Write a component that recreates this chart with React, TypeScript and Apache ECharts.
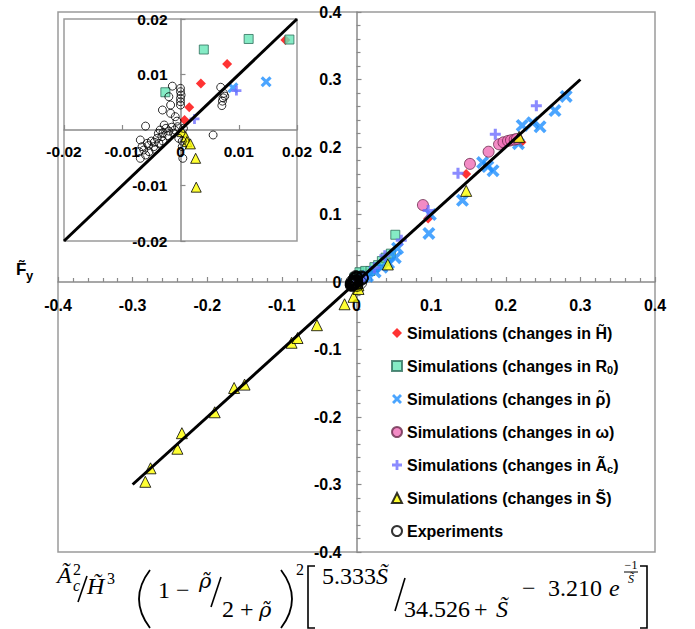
import React, { useEffect, useRef } from 'react';
import * as echarts from 'echarts';

// ---------- data ----------
const seriesNames = [
  'Simulations (changes in H\u0303)',
  'Simulations (changes in R0)',
  'Simulations (changes in \u03c1\u0303)',
  'Simulations (changes in \u03c9)',
  'Simulations (changes in \u00c3c)',
  'Simulations (changes in S\u0303)',
  'Experiments',
];

const mainRange = [-0.4, 0.4];
const mainInterval = 0.1;
const insetRange = [-0.02, 0.02];
const insetInterval = 0.01;

const diagonalMain = [[-0.3, -0.3], [0.3, 0.3]];
const diagonalInset = [[-0.02, -0.02], [0.02, 0.02]];

const changesH = [
  [0.0007, 0.0018], [0.0015, 0.0041], [0.0035, 0.0084], [0.008, 0.0119], [0.018, 0.0162],
  [0.096, 0.094], [0.147, 0.16], [0.221, 0.207],
];
const changesR0 = [
  [-0.0026, 0.0068], [0.004, 0.0145], [0.0117, 0.0164], [0.0187, 0.0163],
  [0.024, 0.022], [0.029, 0.025], [0.034, 0.031], [0.039, 0.036], [0.046, 0.042], [0.052, 0.07],
];
const changesRho = [
  [0.009, 0.0076], [0.0147, 0.0087], [0.025, 0.015], [0.034, 0.022], [0.043, 0.028],
  [0.052, 0.036], [0.055, 0.05], [0.097, 0.072], [0.099, 0.1], [0.142, 0.121],
  [0.169, 0.177], [0.176, 0.171], [0.183, 0.165], [0.217, 0.205], [0.222, 0.232],
  [0.236, 0.236], [0.246, 0.23], [0.266, 0.254], [0.281, 0.275],
];
const changesOmega = [
  [0.089, 0.114], [0.152, 0.175], [0.177, 0.193], [0.191, 0.204], [0.197, 0.207],
  [0.203, 0.209], [0.207, 0.21], [0.212, 0.211], [0.215, 0.212],
];
const changesAc = [
  [0.0024, 0.002], [0.0096, 0.0071], [0.024, 0.021], [0.038, 0.039], [0.06, 0.062],
  [0.096, 0.106], [0.136, 0.161], [0.186, 0.219], [0.241, 0.261],
];
const changesS = [
  [-0.283, -0.296], [-0.276, -0.276], [-0.24, -0.247], [-0.234, -0.224], [-0.19, -0.193],
  [-0.164, -0.157], [-0.15, -0.152], [-0.087, -0.09], [-0.079, -0.083], [-0.053, -0.064],
  [-0.016, -0.033], [-0.004, -0.022], [0.0003, -0.0003], [0.0009, -0.0012], [0.0011, -0.0021],
  [0.0017, -0.0025], [0.0026, -0.0051], [0.0027, -0.0103], [0.042, 0.026], [0.147, 0.135],
  [0.218, 0.215],
];
const experiments = [
  [0, 0.0075], [0, 0.0069], [0.0001, 0.0063], [0, 0.0057], [0, 0.0051], [0, 0.0045],
  [-0.0014, 0.0079], [-0.002, 0.006], [-0.0017, 0.0045], [-0.0031, 0.0036], [-0.0017, 0.003],
  [-0.0009, 0.0024], [-0.0006, 0.0016], [-0.006, 0.0007],
  [0.0069, 0.0077], [0.0074, 0.0066], [0.0076, 0.0061], [0.0073, 0.0058], [0.0072, 0.0052], [0.0071, 0.0044],
  [0.0056, -0.0009],
  [-0.0035, 0], [-0.003, -0.0005], [-0.0025, 0.0003], [-0.002, -0.0002], [-0.0015, 0.0005],
  [-0.001, 0], [-0.0005, 0.0006], [-0.0028, 0.0009], [-0.0038, -0.0006], [-0.0032, -0.0012],
  [-0.0022, -0.001], [-0.0012, -0.0006], [-0.004, -0.0015], [-0.0045, -0.0022], [-0.0037, -0.0024],
  [-0.003, -0.002], [-0.005, -0.002], [-0.0055, -0.0028],
  [-0.0069, -0.0018], [-0.0066, -0.003], [-0.0071, -0.0039], [-0.0069, -0.0051], [-0.0063, -0.0036],
  [-0.0057, -0.0024], [-0.006, -0.0045], [-0.0054, -0.0039], [-0.0046, -0.003], [-0.0043, -0.0035],
  [0.0003, -0.002], [0.0003, -0.003], [0.0004, -0.0051], [-0.0003, -0.0015], [0.0005, 0.0003],
];

const seriesData = [changesH, changesR0, changesRho, changesOmega, changesAc, changesS, experiments];

// ---------- styles ----------
const xPath = 'path://M0,2L2,0L5,3L8,0L10,2L7,5L10,8L8,10L5,7L2,10L0,8L3,5Z';
const plusPath = 'path://M3.6,0L6.4,0L6.4,3.6L10,3.6L10,6.4L6.4,6.4L6.4,10L3.6,10L3.6,6.4L0,6.4L0,3.6L3.6,3.6Z';

const markerStyles = [
  { symbol: 'diamond', main: [10, 10], inset: [10, 10], itemStyle: { color: '#FF0000' } },
  { symbol: 'rect', main: 9, inset: 9, itemStyle: { color: '#66E6B6', borderColor: '#2F6F5C', borderWidth: 1 } },
  { symbol: xPath, main: 13, inset: 11, itemStyle: { color: '#1E8FFF' } },
  { symbol: 'circle', main: 11, inset: 10, itemStyle: { color: '#F06EB6', borderColor: '#6A2A4C', borderWidth: 1 } },
  { symbol: plusPath, main: 11, inset: 10, itemStyle: { color: '#6E6EFF' } },
  { symbol: 'triangle', main: 11, inset: 10, itemStyle: { color: '#FFFF00', borderColor: '#000', borderWidth: 1 } },
  { symbol: 'circle', main: 12, inset: 8, itemStyle: { color: 'rgba(255,255,255,0)', borderColor: '#000', borderWidth: 1 } },
];

const sansFont = '"Liberation Sans", Arial, Helvetica, sans-serif';
const serifFont = '"Liberation Serif", "DejaVu Serif", serif';
const greekFont = '"DejaVu Serif", "Liberation Serif", serif';
const axisGray = '#8a8a8a';

const fmtMain = (v: number) => (Math.abs(v) < 1e-9 ? '0' : v.toFixed(1));
const fmtInset = (v: number) => (Math.abs(v) < 1e-9 ? '0' : v.toFixed(2));

function valueAxis(gridIndex: number, range: number[], interval: number, isInset: boolean, isY: boolean, offset: number) {
  return {
    type: 'value',
    gridIndex,
    min: range[0],
    max: range[1],
    interval,
    position: isY ? 'left' : 'bottom',
    offset,
    axisLine: { onZero: false, lineStyle: { color: axisGray, width: 1.5 } },
    axisTick: { inside: true, length: 5, lineStyle: { color: axisGray, width: 1.2 } },
    minorTick: isInset
      ? { show: false }
      : { show: true, splitNumber: 5, length: 4, lineStyle: { color: axisGray, width: 1.2 } },
    splitLine: { show: false },
    minorSplitLine: { show: false },
    axisLabel: {
      color: '#000',
      fontFamily: sansFont,
      fontWeight: 'bold',
      fontSize: isInset ? 15.5 : 16,
      margin: isInset ? 13 : 15,
      formatter: (v: number) => {
        if (isInset) {
          if (isY && Math.abs(v) < 1e-9) return '';
          return fmtInset(v);
        }
        return fmtMain(v);
      },
    },
  };
}

function ft(x: number, base: number, text: string, size: number, italic = false, align = 'left', family = serifFont) {
  return {
    type: 'text',
    x,
    y: base - 0.35 * size,
    silent: true,
    style: {
      text,
      fill: '#000',
      fontFamily: family,
      fontSize: size,
      fontStyle: italic ? 'italic' : 'normal',
      align,
      verticalAlign: 'middle',
    },
  };
}
function ln(x1: number, y1: number, x2: number, y2: number, w = 1.6) {
  return { type: 'line', silent: true, shape: { x1, y1, x2, y2 }, style: { stroke: '#000', lineWidth: w } };
}
function paren(xTop: number, xMid: number, y1: number, y2: number) {
  return {
    type: 'bezierCurve',
    silent: true,
    shape: { x1: xTop, y1, x2: xTop, y2, cpx1: xMid, cpy1: (y1 + y2) / 2 },
    style: { stroke: '#000', lineWidth: 1.8, fill: 'none' },
  };
}
function bracket(xOuter: number, xInner: number, y1: number, y2: number) {
  return {
    type: 'polyline',
    silent: true,
    shape: { points: [[xInner, y1], [xOuter, y1], [xOuter, y2], [xInner, y2]] },
    style: { stroke: '#000', lineWidth: 1.6, fill: 'none' },
  };
}

function buildFormula() {
  const S = 24;
  const s = 16;
  return [
    ft(57, 583, '\u00c3', S, true),
    ft(73, 575, '2', s),
    ft(73, 591, 'c', s, true),
    ln(87, 576, 78, 602),
    ft(87, 594, 'H\u0303', S, true),
    ft(107, 584, '3', s),
    paren(150, 128, 570, 628),
    ft(158, 598, '1', S),
    ft(176, 598, '\u2212', S),
    ft(199, 588, '\u03c1\u0303', 21, true, 'left', greekFont),
    ln(221, 577, 211, 607),
    ft(222, 617, '2', S),
    ft(240, 617, '+', S),
    ft(259, 617, '\u03c1\u0303', 21, true, 'left', greekFont),
    paren(281, 303, 570, 628),
    ft(296, 575, '2', s),
    bracket(308, 315, 566, 628),
    ft(322, 584, '5.333', S),
    ft(376, 584, 'S\u0303', S, true),
    ln(405, 578, 395, 611),
    ft(404, 617, '34.526', S),
    ft(474, 617, '+', S),
    ft(496, 617, 'S\u0303', S, true),
    ft(522, 596, '\u2212', S),
    ft(548, 596, '3.210', S),
    ft(609, 596, 'e', S, true),
    ft(631, 569, '\u22121', 12, false, 'center'),
    ln(624, 572, 638, 572, 1),
    ft(631, 583, 'S\u0303', 12, true, 'center'),
    bracket(647, 640, 566, 628),
  ];
}

export default function App() {
  const ref = useRef<HTMLDivElement>(null);

  useEffect(() => {
    if (!ref.current) return;
    const chart = echarts.init(ref.current, undefined, { renderer: 'svg' });

    const series: any[] = [
      {
        type: 'line',
        name: 'fit-main',
        xAxisIndex: 0,
        yAxisIndex: 0,
        data: diagonalMain,
        symbol: 'none',
        lineStyle: { color: '#000', width: 3 },
        silent: true,
      },
      {
        type: 'line',
        name: 'fit-inset',
        xAxisIndex: 1,
        yAxisIndex: 1,
        data: diagonalInset,
        symbol: 'none',
        lineStyle: { color: '#000', width: 3 },
        silent: true,
      },
    ];
    seriesData.forEach((data, i) => {
      const st = markerStyles[i];
      series.push({
        type: 'scatter',
        name: seriesNames[i],
        xAxisIndex: 0,
        yAxisIndex: 0,
        data,
        symbol: st.symbol,
        symbolSize: st.main,
        itemStyle: st.itemStyle,
      });
      series.push({
        type: 'scatter',
        name: seriesNames[i],
        xAxisIndex: 1,
        yAxisIndex: 1,
        data,
        clip: true,
        symbol: st.symbol,
        symbolSize: st.inset,
        itemStyle: st.itemStyle,
      });
    });

    chart.setOption({
      animation: false,
      backgroundColor: '#fff',
      grid: [
        { left: 58, top: 12, width: 597, height: 540, show: true, borderColor: '#9a9a9a', borderWidth: 1.5 },
        { left: 64, top: 19, width: 233, height: 222, show: true, borderColor: '#9a9a9a', borderWidth: 1.5 },
      ],
      xAxis: [
        valueAxis(0, mainRange, mainInterval, false, false, -270),
        valueAxis(1, insetRange, insetInterval, true, false, -111),
      ],
      yAxis: [
        valueAxis(0, mainRange, mainInterval, false, true, -298.5),
        valueAxis(1, insetRange, insetInterval, true, true, -116.5),
      ],
      legend: {
        orient: 'vertical',
        left: 386,
        top: 319,
        itemWidth: 10,
        itemHeight: 10,
        itemGap: 15,
        selectedMode: false,
        data: seriesNames,
        textStyle: {
          fontFamily: sansFont,
          fontWeight: 'bold',
          fontSize: 16,
          color: '#000',
          lineHeight: 18,
          rich: {
            sub: { fontFamily: sansFont, fontWeight: 'bold', fontSize: 11, color: '#000', lineHeight: 18, verticalAlign: 'bottom' },
          },
        },
        formatter: (name: string) => {
          if (name === seriesNames[1]) return 'Simulations (changes in R{sub|0})';
          if (name === seriesNames[4]) return 'Simulations (changes in \u00c3{sub|c})';
          return name;
        },
      },
      graphic: [
        {
          type: 'text',
          x: 16,
          y: 275 - 0.35 * 17,
          silent: true,
          style: { text: 'F\u0303', fill: '#000', fontFamily: sansFont, fontWeight: 'bold', fontSize: 17, verticalAlign: 'middle' },
        },
        {
          type: 'text',
          x: 26,
          y: 280 - 0.35 * 13,
          silent: true,
          style: { text: 'y', fill: '#000', fontFamily: sansFont, fontWeight: 'bold', fontSize: 13, verticalAlign: 'middle' },
        },
        ...buildFormula(),
      ],
      series,
    });

    return () => chart.dispose();
  }, []);

  return (
    <div
      ref={ref}
      style={{ position: 'absolute', left: 0, top: 0, width: 695, height: 629 }}
    />
  );
}
